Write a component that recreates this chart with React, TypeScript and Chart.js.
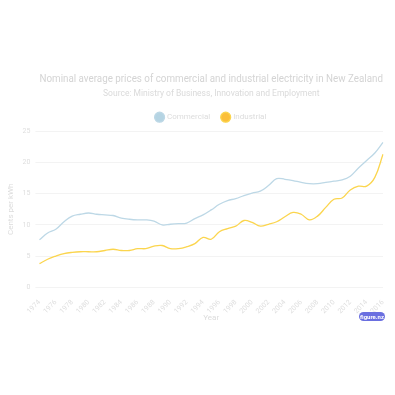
import React, { useEffect, useRef } from "react";
import { Chart, registerables } from "chart.js";

Chart.register(...registerables);

const years: string[] = [];
for (let y = 1974; y <= 2016; y++) years.push(String(y));

const commercial = [
  7.6, 8.7, 9.3, 10.5, 11.4, 11.7, 11.9, 11.7, 11.6, 11.5, 11.1, 10.9, 10.8, 10.8, 10.6,
  10.0, 10.1, 10.2, 10.3, 11.0, 11.6, 12.4, 13.3, 13.9, 14.2, 14.7, 15.1, 15.4, 16.3,
  17.4, 17.3, 17.1, 16.8, 16.6, 16.6, 16.8, 17.0, 17.2, 17.8, 19.1, 20.3, 21.5, 23.2,
];

const industrial = [
  3.8, 4.5, 5.0, 5.4, 5.6, 5.7, 5.7, 5.7, 5.9, 6.1, 5.9, 5.9, 6.2, 6.2, 6.6, 6.7, 6.2,
  6.2, 6.5, 7.0, 8.0, 7.7, 8.9, 9.4, 9.8, 10.7, 10.4, 9.8, 10.1, 10.5, 11.3, 12.0, 11.7,
  10.8, 11.4, 12.8, 14.1, 14.3, 15.6, 16.2, 16.2, 17.6, 21.3,
];

const yTicks = [0, 5, 10, 15, 20, 25];

const titleText = "Nominal average prices of commercial and industrial electricity in New Zealand";
const subtitleText = "Source: Ministry of Business, Innovation and Employment";

const FONT = "Roboto";

const badgePlugin = {
  id: "badge",
  afterDraw(chart: any) {
    const ctx = chart.ctx;
    const w = 26, h = 9;
    const x = 359;
    const y = 312;
    ctx.save();
    ctx.fillStyle = "#6a6fe0";
    ctx.beginPath();
    ctx.roundRect(x, y, w, h, 4.5);
    ctx.fill();
    ctx.fillStyle = "#ffffff";
    ctx.font = `bold 6px ${FONT}`;
    ctx.textAlign = "center";
    ctx.textBaseline = "middle";
    ctx.fillText("figure.nz", x + w / 2, y + h / 2 + 0.5);
    ctx.restore();
  },
};

export default function App() {
  const ref = useRef<HTMLCanvasElement>(null);
  useEffect(() => {
    if (!ref.current) return;
    const chart = new Chart(ref.current, {
      type: "line",
      data: {
        labels: years,
        datasets: [
          {
            label: "Commercial",
            data: commercial,
            borderColor: "#bdd8e6",
            backgroundColor: "#b5d4e3",
            borderWidth: 1.3,
            pointRadius: 0,
            tension: 0.4,
          },
          {
            label: "Industrial",
            data: industrial,
            borderColor: "#fbd54e",
            backgroundColor: "#fbbf3a",
            borderWidth: 1.3,
            pointRadius: 0,
            tension: 0.4,
          },
        ],
      },
      plugins: [badgePlugin],
      options: {
        animation: false,
        responsive: true,
        maintainAspectRatio: false,
        layout: { padding: { top: 73, left: 6, right: 12, bottom: 72 } },
        plugins: {
          title: {
            display: true,
            fullSize: false,
            text: titleText,
            color: "#d4d4d4",
            font: { family: FONT, size: 10, weight: "normal" },
            padding: { top: 0, bottom: 4 },
          },
          subtitle: {
            display: true,
            fullSize: false,
            text: subtitleText,
            color: "#dadada",
            font: { family: FONT, size: 8.5 },
            padding: { top: 0, bottom: 2 },
          },
          legend: {
            display: true,
            fullSize: false,
            labels: {
              usePointStyle: true,
              pointStyle: "circle",
              boxWidth: 7,
              boxHeight: 7,
              color: "#dcdcdc",
              font: { family: FONT, size: 8 },
              padding: 12,
            },
          },
          tooltip: { enabled: false },
        },
        scales: {
          x: {
            offset: false,
            grid: { display: false },
            border: { display: false },
            title: {
              display: true,
              text: "Year",
              color: "#dcdcdc",
              font: { family: FONT, size: 8 },
              padding: { top: -5, bottom: 0 },
            },
            ticks: {
              autoSkip: false,
              maxRotation: 45,
              minRotation: 45,
              color: "#dedede",
              font: { family: FONT, size: 7 },
              callback: (_v: any, i: number) => (i % 2 === 0 ? years[i] : ""),
            },
          },
          y: {
            min: 0,
            max: 25,
            afterBuildTicks: (axis: any) => {
              axis.ticks = yTicks.map((v) => ({ value: v }));
            },
            grid: { color: "#f3f3f3", tickLength: 4 },
            border: { display: false },
            title: {
              display: true,
              text: "Cents per kWh",
              color: "#dcdcdc",
              font: { family: FONT, size: 8 },
              padding: { top: 0, bottom: 2 },
            },
            ticks: {
              color: "#dedede",
              font: { family: FONT, size: 7 },
              padding: 5,
            },
          },
        },
      },
    });
    return () => chart.destroy();
  }, []);
  return (
    <div style={{ position: "absolute", left: 0, top: 0, width: 395, height: 395 }}>
      <canvas ref={ref} />
    </div>
  );
}
